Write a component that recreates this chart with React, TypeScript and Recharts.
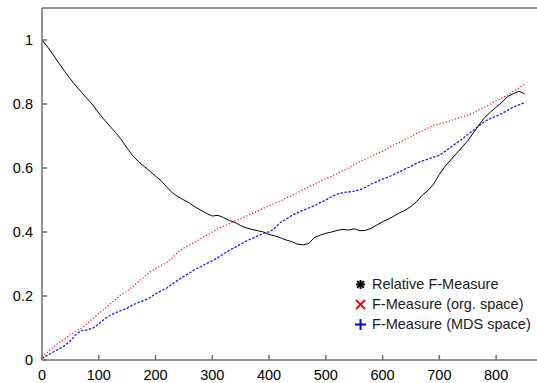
import { LineChart, Line, XAxis, YAxis, ReferenceLine, Legend } from 'recharts';

// x positions (number of points), step of 10
const steps = [
  0, 10, 20, 30, 40, 50, 60, 70, 80, 90,
  100, 110, 120, 130, 140, 150, 160, 170, 180, 190,
  200, 210, 220, 230, 240, 250, 260, 270, 280, 290,
  300, 310, 320, 330, 340, 350, 360, 370, 380, 390,
  400, 410, 420, 430, 440, 450, 460, 470, 480, 490,
  500, 510, 520, 530, 540, 550, 560, 570, 580, 590,
  600, 610, 620, 630, 640, 650, 660, 670, 680, 690,
  700, 710, 720, 730, 740, 750, 760, 770, 780, 790,
  800, 810, 820, 830, 840, 850,
];

const relative = [
  1.0, 0.978, 0.953, 0.927, 0.902, 0.878, 0.856, 0.836, 0.816, 0.796,
  0.772, 0.75, 0.73, 0.71, 0.688, 0.662, 0.638, 0.62, 0.605, 0.59,
  0.575, 0.56, 0.54, 0.522, 0.51, 0.5, 0.49, 0.478, 0.468, 0.458,
  0.45, 0.452, 0.445, 0.436, 0.43, 0.42, 0.413, 0.408, 0.404, 0.4,
  0.392, 0.388, 0.382, 0.375, 0.37, 0.362, 0.36, 0.364, 0.383, 0.39,
  0.396, 0.4, 0.405, 0.408, 0.406, 0.41, 0.404, 0.405, 0.412, 0.422,
  0.432, 0.44, 0.45, 0.46, 0.468, 0.48, 0.495, 0.515, 0.53, 0.55,
  0.58, 0.605, 0.625, 0.645, 0.665, 0.685, 0.71, 0.735, 0.758, 0.775,
  0.79, 0.805, 0.823, 0.832, 0.84, 0.832,
];

const orgSpace = [
  0.01, 0.025, 0.04, 0.055, 0.065, 0.08, 0.09, 0.1, 0.115, 0.13,
  0.145, 0.16, 0.175, 0.19, 0.205, 0.215, 0.23, 0.245, 0.26, 0.275,
  0.285, 0.295, 0.305, 0.32, 0.338, 0.35, 0.36, 0.368, 0.38, 0.39,
  0.4, 0.41, 0.418, 0.426, 0.435, 0.442, 0.45, 0.458, 0.466, 0.474,
  0.482, 0.49, 0.497, 0.506, 0.514, 0.523, 0.532, 0.541, 0.55, 0.558,
  0.566, 0.574, 0.583, 0.592, 0.6, 0.61, 0.62, 0.628, 0.636, 0.645,
  0.652, 0.662, 0.672, 0.68, 0.69, 0.698, 0.708, 0.716, 0.725, 0.733,
  0.738, 0.742, 0.748, 0.755, 0.76, 0.765, 0.772, 0.782, 0.79, 0.8,
  0.81, 0.818, 0.828, 0.84, 0.85, 0.862,
];

const mdsSpace = [
  0.005, 0.015, 0.025, 0.035, 0.045, 0.06, 0.08, 0.092, 0.094, 0.1,
  0.113, 0.128, 0.14, 0.148, 0.155, 0.162, 0.172, 0.18, 0.186, 0.195,
  0.207, 0.216, 0.225, 0.238, 0.25, 0.262, 0.272, 0.284, 0.292, 0.302,
  0.31, 0.32, 0.332, 0.343, 0.352, 0.362, 0.372, 0.38, 0.388, 0.396,
  0.4, 0.412, 0.43, 0.44, 0.452, 0.46, 0.468, 0.475, 0.482, 0.492,
  0.5, 0.51, 0.518, 0.523, 0.525, 0.528, 0.532, 0.54, 0.55, 0.557,
  0.565, 0.572, 0.58, 0.588, 0.597, 0.605, 0.615, 0.622, 0.628, 0.634,
  0.64, 0.652, 0.665, 0.678, 0.69, 0.705, 0.718, 0.732, 0.746, 0.755,
  0.762, 0.77, 0.78, 0.79, 0.797, 0.804,
];

const xTicks = [0, 100, 200, 300, 400, 500, 600, 700, 800];
const yTicks = [0, 0.2, 0.4, 0.6, 0.8, 1];

const seriesNames = ['Relative F-Measure', 'F-Measure (org. space)', 'F-Measure (MDS space)'];

const AXIS = '#6f6f6f';
const FONT = '"Liberation Sans", Arial, Helvetica, sans-serif';

const data = steps.map((x, i) => ({
  x,
  relative: relative[i],
  org: orgSpace[i],
  mds: mdsSpace[i],
}));

function Marker({ kind }: { kind: number }) {
  if (kind === 0) {
    return (
      <svg width={11} height={11} viewBox="-5.5 -5.5 11 11">
        <g stroke="#000" strokeWidth={2}>
          <line x1={-4.5} y1={0} x2={4.5} y2={0} />
          <line x1={0} y1={-4.5} x2={0} y2={4.5} />
          <line x1={-3.4} y1={-3.4} x2={3.4} y2={3.4} />
          <line x1={-3.4} y1={3.4} x2={3.4} y2={-3.4} />
        </g>
      </svg>
    );
  }
  if (kind === 1) {
    return (
      <svg width={11} height={11} viewBox="-5.5 -5.5 11 11">
        <g stroke="#ff0000" strokeWidth={2}>
          <line x1={-4.5} y1={-4.5} x2={4.5} y2={4.5} />
          <line x1={-4.5} y1={4.5} x2={4.5} y2={-4.5} />
        </g>
      </svg>
    );
  }
  return (
    <svg width={11} height={11} viewBox="-5.5 -5.5 11 11">
      <g stroke="#0000ff" strokeWidth={2}>
        <line x1={-5.5} y1={0} x2={5.5} y2={0} />
        <line x1={0} y1={-5.5} x2={0} y2={5.5} />
      </g>
    </svg>
  );
}

function LegendBox() {
  return (
    <div style={{ fontFamily: FONT, fontSize: 14.5, color: '#1a1a1a', lineHeight: '20px' }}>
      {seriesNames.map((name, i) => (
        <div key={name} style={{ display: 'flex', alignItems: 'center', height: 20 }}>
          <Marker kind={i} />
          <span style={{ marginLeft: 6 }}>{name}</span>
        </div>
      ))}
    </div>
  );
}

export default function App() {
  return (
    <div style={{ position: 'absolute', left: 0, top: 0, background: '#fff' }}>
      <LineChart width={537} height={383} data={data} margin={{ top: 8, right: 0, bottom: 0, left: 0 }}>
        <XAxis
          dataKey="x"
          type="number"
          domain={[0, 872]}
          ticks={xTicks}
          allowDataOverflow
          height={23}
          stroke={AXIS}
          strokeWidth={1.5}
          tickSize={-5}
          tickMargin={15}
          tick={{ fill: '#000', fontSize: 14.5, fontFamily: FONT }}
        />
        <YAxis
          type="number"
          domain={[0, 1.1]}
          ticks={yTicks}
          allowDataOverflow
          width={42}
          stroke={AXIS}
          strokeWidth={1.5}
          tickSize={-5}
          tickMargin={14}
          tickFormatter={(v) => String(v)}
          tick={{ fill: '#000', fontSize: 14.5, fontFamily: FONT }}
        />
        <ReferenceLine y={1.1} stroke={AXIS} strokeWidth={1.5} />
        <Line
          type="linear"
          dataKey="org"
          stroke="#ff1a1a"
          strokeWidth={1.3}
          strokeDasharray="1.2 2"
          dot={false}
          isAnimationActive={false}
        />
        <Line
          type="linear"
          dataKey="mds"
          stroke="#1a1aff"
          strokeWidth={1.3}
          strokeDasharray="2.5 1.5"
          dot={false}
          isAnimationActive={false}
        />
        <Line
          type="linear"
          dataKey="relative"
          stroke="#000"
          strokeWidth={1}
          dot={false}
          isAnimationActive={false}
        />
        <Legend
          layout="vertical"
          align="center"
          verticalAlign="middle"
          content={() => <LegendBox />}
          wrapperStyle={{ left: 355, top: 274, width: 'auto', height: 'auto' }}
        />
      </LineChart>
    </div>
  );
}
